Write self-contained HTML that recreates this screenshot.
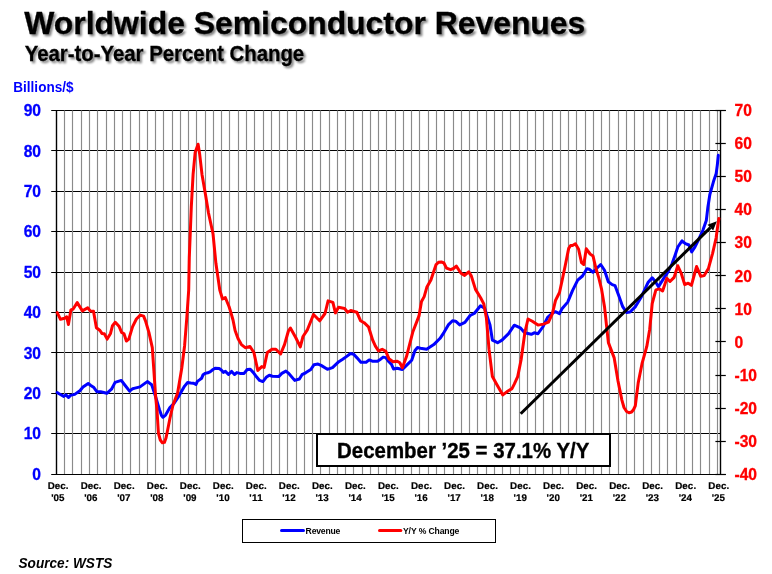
<!DOCTYPE html>
<html><head><meta charset="utf-8"><style>
html,body{margin:0;padding:0;background:#fff;width:772px;height:574px;overflow:hidden}
svg{display:block;will-change:transform}
text{font-family:"Liberation Sans",sans-serif;font-weight:bold}
</style></head><body>
<svg width="772" height="574" viewBox="0 0 772 574">
<defs>
<filter id="sh" x="-5%" y="-20%" width="110%" height="150%">
<feGaussianBlur in="SourceAlpha" stdDeviation="1"/>
<feOffset dx="2" dy="2.2" result="b"/>
<feComponentTransfer in="b" result="c"><feFuncA type="linear" slope="0.5"/></feComponentTransfer>
<feMerge><feMergeNode in="c"/><feMergeNode in="SourceGraphic"/></feMerge>
</filter>
</defs>
<rect width="772" height="574" fill="#fff"/>

<text x="24.3" y="33.8" font-size="31.5" fill="#000" stroke="#000" stroke-width="0.3" filter="url(#sh)" textLength="561" lengthAdjust="spacingAndGlyphs">Worldwide Semiconductor Revenues</text>
<text x="24.7" y="60.9" font-size="22.5" fill="#000" stroke="#000" stroke-width="0.3" filter="url(#sh)" textLength="279.5" lengthAdjust="spacingAndGlyphs">Year-to-Year Percent Change</text>
<text x="13.3" y="92" font-size="14" fill="#0000ff" textLength="60.2" lengthAdjust="spacingAndGlyphs">Billions/$</text>
<g stroke="#000" stroke-width="1.2"><line x1="51.2" y1="474.50" x2="725.8" y2="474.50"/><line x1="51.2" y1="433.50" x2="720.3" y2="433.50"/><line x1="51.2" y1="393.50" x2="720.3" y2="393.50"/><line x1="51.2" y1="352.50" x2="720.3" y2="352.50"/><line x1="51.2" y1="312.50" x2="720.3" y2="312.50"/><line x1="51.2" y1="272.50" x2="720.3" y2="272.50"/><line x1="51.2" y1="231.50" x2="720.3" y2="231.50"/><line x1="51.2" y1="191.50" x2="720.3" y2="191.50"/><line x1="51.2" y1="150.50" x2="720.3" y2="150.50"/><line x1="51.2" y1="110.50" x2="725.8" y2="110.50"/></g>
<g stroke="#8a8a8a" stroke-width="1.15"><line x1="64.50" y1="110.5" x2="64.50" y2="474.0"/><line x1="72.50" y1="110.5" x2="72.50" y2="474.0"/><line x1="81.50" y1="110.5" x2="81.50" y2="474.0"/><line x1="89.50" y1="110.5" x2="89.50" y2="474.0"/><line x1="97.50" y1="110.5" x2="97.50" y2="474.0"/><line x1="106.50" y1="110.5" x2="106.50" y2="474.0"/><line x1="114.50" y1="110.5" x2="114.50" y2="474.0"/><line x1="122.50" y1="110.5" x2="122.50" y2="474.0"/><line x1="130.50" y1="110.5" x2="130.50" y2="474.0"/><line x1="139.50" y1="110.5" x2="139.50" y2="474.0"/><line x1="147.50" y1="110.5" x2="147.50" y2="474.0"/><line x1="155.50" y1="110.5" x2="155.50" y2="474.0"/><line x1="163.50" y1="110.5" x2="163.50" y2="474.0"/><line x1="172.50" y1="110.5" x2="172.50" y2="474.0"/><line x1="180.50" y1="110.5" x2="180.50" y2="474.0"/><line x1="188.50" y1="110.5" x2="188.50" y2="474.0"/><line x1="196.50" y1="110.5" x2="196.50" y2="474.0"/><line x1="205.50" y1="110.5" x2="205.50" y2="474.0"/><line x1="213.50" y1="110.5" x2="213.50" y2="474.0"/><line x1="221.50" y1="110.5" x2="221.50" y2="474.0"/><line x1="229.50" y1="110.5" x2="229.50" y2="474.0"/><line x1="238.50" y1="110.5" x2="238.50" y2="474.0"/><line x1="246.50" y1="110.5" x2="246.50" y2="474.0"/><line x1="254.50" y1="110.5" x2="254.50" y2="474.0"/><line x1="263.50" y1="110.5" x2="263.50" y2="474.0"/><line x1="271.50" y1="110.5" x2="271.50" y2="474.0"/><line x1="279.50" y1="110.5" x2="279.50" y2="474.0"/><line x1="287.50" y1="110.5" x2="287.50" y2="474.0"/><line x1="296.50" y1="110.5" x2="296.50" y2="474.0"/><line x1="304.50" y1="110.5" x2="304.50" y2="474.0"/><line x1="312.50" y1="110.5" x2="312.50" y2="474.0"/><line x1="320.50" y1="110.5" x2="320.50" y2="474.0"/><line x1="329.50" y1="110.5" x2="329.50" y2="474.0"/><line x1="337.50" y1="110.5" x2="337.50" y2="474.0"/><line x1="345.50" y1="110.5" x2="345.50" y2="474.0"/><line x1="353.50" y1="110.5" x2="353.50" y2="474.0"/><line x1="362.50" y1="110.5" x2="362.50" y2="474.0"/><line x1="370.50" y1="110.5" x2="370.50" y2="474.0"/><line x1="378.50" y1="110.5" x2="378.50" y2="474.0"/><line x1="386.50" y1="110.5" x2="386.50" y2="474.0"/><line x1="395.50" y1="110.5" x2="395.50" y2="474.0"/><line x1="403.50" y1="110.5" x2="403.50" y2="474.0"/><line x1="411.50" y1="110.5" x2="411.50" y2="474.0"/><line x1="419.50" y1="110.5" x2="419.50" y2="474.0"/><line x1="428.50" y1="110.5" x2="428.50" y2="474.0"/><line x1="436.50" y1="110.5" x2="436.50" y2="474.0"/><line x1="444.50" y1="110.5" x2="444.50" y2="474.0"/><line x1="453.50" y1="110.5" x2="453.50" y2="474.0"/><line x1="461.50" y1="110.5" x2="461.50" y2="474.0"/><line x1="469.50" y1="110.5" x2="469.50" y2="474.0"/><line x1="477.50" y1="110.5" x2="477.50" y2="474.0"/><line x1="486.50" y1="110.5" x2="486.50" y2="474.0"/><line x1="494.50" y1="110.5" x2="494.50" y2="474.0"/><line x1="502.50" y1="110.5" x2="502.50" y2="474.0"/><line x1="510.50" y1="110.5" x2="510.50" y2="474.0"/><line x1="519.50" y1="110.5" x2="519.50" y2="474.0"/><line x1="527.50" y1="110.5" x2="527.50" y2="474.0"/><line x1="535.50" y1="110.5" x2="535.50" y2="474.0"/><line x1="543.50" y1="110.5" x2="543.50" y2="474.0"/><line x1="552.50" y1="110.5" x2="552.50" y2="474.0"/><line x1="560.50" y1="110.5" x2="560.50" y2="474.0"/><line x1="568.50" y1="110.5" x2="568.50" y2="474.0"/><line x1="576.50" y1="110.5" x2="576.50" y2="474.0"/><line x1="585.50" y1="110.5" x2="585.50" y2="474.0"/><line x1="593.50" y1="110.5" x2="593.50" y2="474.0"/><line x1="601.50" y1="110.5" x2="601.50" y2="474.0"/><line x1="609.50" y1="110.5" x2="609.50" y2="474.0"/><line x1="618.50" y1="110.5" x2="618.50" y2="474.0"/><line x1="626.50" y1="110.5" x2="626.50" y2="474.0"/><line x1="634.50" y1="110.5" x2="634.50" y2="474.0"/><line x1="643.50" y1="110.5" x2="643.50" y2="474.0"/><line x1="651.50" y1="110.5" x2="651.50" y2="474.0"/><line x1="659.50" y1="110.5" x2="659.50" y2="474.0"/><line x1="667.50" y1="110.5" x2="667.50" y2="474.0"/><line x1="676.50" y1="110.5" x2="676.50" y2="474.0"/><line x1="684.50" y1="110.5" x2="684.50" y2="474.0"/><line x1="692.50" y1="110.5" x2="692.50" y2="474.0"/><line x1="700.50" y1="110.5" x2="700.50" y2="474.0"/><line x1="709.50" y1="110.5" x2="709.50" y2="474.0"/><line x1="717.50" y1="110.5" x2="717.50" y2="474.0"/></g>
<g stroke="#000" stroke-width="1.2"><line x1="715.4" y1="474.50" x2="725.8" y2="474.50"/><line x1="715.4" y1="441.50" x2="725.8" y2="441.50"/><line x1="715.4" y1="408.50" x2="725.8" y2="408.50"/><line x1="715.4" y1="375.50" x2="725.8" y2="375.50"/><line x1="715.4" y1="341.50" x2="725.8" y2="341.50"/><line x1="715.4" y1="308.50" x2="725.8" y2="308.50"/><line x1="715.4" y1="275.50" x2="725.8" y2="275.50"/><line x1="715.4" y1="242.50" x2="725.8" y2="242.50"/><line x1="715.4" y1="209.50" x2="725.8" y2="209.50"/><line x1="715.4" y1="176.50" x2="725.8" y2="176.50"/><line x1="715.4" y1="143.50" x2="725.8" y2="143.50"/><line x1="715.4" y1="110.50" x2="725.8" y2="110.50"/></g>
<line x1="56.5" y1="110" x2="56.5" y2="475" stroke="#000" stroke-width="1.4"/>
<line x1="720.5" y1="110" x2="720.5" y2="475" stroke="#000" stroke-width="1.4"/>
<g font-size="15.6" fill="#0000ff" stroke="#0000ff" stroke-width="0.3"><text x="41" y="479.80" text-anchor="end">0</text><text x="41" y="439.41" text-anchor="end">10</text><text x="41" y="399.02" text-anchor="end">20</text><text x="41" y="358.63" text-anchor="end">30</text><text x="41" y="318.24" text-anchor="end">40</text><text x="41" y="277.86" text-anchor="end">50</text><text x="41" y="237.47" text-anchor="end">60</text><text x="41" y="197.08" text-anchor="end">70</text><text x="41" y="156.69" text-anchor="end">80</text><text x="41" y="116.30" text-anchor="end">90</text></g>
<g font-size="15.6" fill="#ff0000" stroke="#ff0000" stroke-width="0.3"><text x="734.5" y="479.80">-40</text><text x="734.5" y="446.75">-30</text><text x="734.5" y="413.71">-20</text><text x="734.5" y="380.66">-10</text><text x="734.5" y="347.62">0</text><text x="734.5" y="314.57">10</text><text x="734.5" y="281.53">20</text><text x="734.5" y="248.48">30</text><text x="734.5" y="215.44">40</text><text x="734.5" y="182.39">50</text><text x="734.5" y="149.35">60</text><text x="734.5" y="116.30">70</text></g>
<g font-size="9.8" fill="#000" stroke="#000" stroke-width="0.2" text-rendering="geometricPrecision"><text x="47.65" y="488.7" textLength="20.9" lengthAdjust="spacing">Dec.</text><text x="51.15" y="500.5" textLength="13.3" lengthAdjust="spacing">&#39;05</text><text x="80.68" y="488.7" textLength="20.9" lengthAdjust="spacing">Dec.</text><text x="84.18" y="500.5" textLength="13.3" lengthAdjust="spacing">&#39;06</text><text x="113.71" y="488.7" textLength="20.9" lengthAdjust="spacing">Dec.</text><text x="117.21" y="500.5" textLength="13.3" lengthAdjust="spacing">&#39;07</text><text x="146.74" y="488.7" textLength="20.9" lengthAdjust="spacing">Dec.</text><text x="150.24" y="500.5" textLength="13.3" lengthAdjust="spacing">&#39;08</text><text x="179.77" y="488.7" textLength="20.9" lengthAdjust="spacing">Dec.</text><text x="183.27" y="500.5" textLength="13.3" lengthAdjust="spacing">&#39;09</text><text x="212.80" y="488.7" textLength="20.9" lengthAdjust="spacing">Dec.</text><text x="216.30" y="500.5" textLength="13.3" lengthAdjust="spacing">&#39;10</text><text x="245.83" y="488.7" textLength="20.9" lengthAdjust="spacing">Dec.</text><text x="249.33" y="500.5" textLength="13.3" lengthAdjust="spacing">&#39;11</text><text x="278.86" y="488.7" textLength="20.9" lengthAdjust="spacing">Dec.</text><text x="282.36" y="500.5" textLength="13.3" lengthAdjust="spacing">&#39;12</text><text x="311.89" y="488.7" textLength="20.9" lengthAdjust="spacing">Dec.</text><text x="315.39" y="500.5" textLength="13.3" lengthAdjust="spacing">&#39;13</text><text x="344.92" y="488.7" textLength="20.9" lengthAdjust="spacing">Dec.</text><text x="348.42" y="500.5" textLength="13.3" lengthAdjust="spacing">&#39;14</text><text x="377.95" y="488.7" textLength="20.9" lengthAdjust="spacing">Dec.</text><text x="381.45" y="500.5" textLength="13.3" lengthAdjust="spacing">&#39;15</text><text x="410.98" y="488.7" textLength="20.9" lengthAdjust="spacing">Dec.</text><text x="414.48" y="500.5" textLength="13.3" lengthAdjust="spacing">&#39;16</text><text x="444.01" y="488.7" textLength="20.9" lengthAdjust="spacing">Dec.</text><text x="447.51" y="500.5" textLength="13.3" lengthAdjust="spacing">&#39;17</text><text x="477.04" y="488.7" textLength="20.9" lengthAdjust="spacing">Dec.</text><text x="480.54" y="500.5" textLength="13.3" lengthAdjust="spacing">&#39;18</text><text x="510.07" y="488.7" textLength="20.9" lengthAdjust="spacing">Dec.</text><text x="513.57" y="500.5" textLength="13.3" lengthAdjust="spacing">&#39;19</text><text x="543.10" y="488.7" textLength="20.9" lengthAdjust="spacing">Dec.</text><text x="546.60" y="500.5" textLength="13.3" lengthAdjust="spacing">&#39;20</text><text x="576.13" y="488.7" textLength="20.9" lengthAdjust="spacing">Dec.</text><text x="579.63" y="500.5" textLength="13.3" lengthAdjust="spacing">&#39;21</text><text x="609.16" y="488.7" textLength="20.9" lengthAdjust="spacing">Dec.</text><text x="612.66" y="500.5" textLength="13.3" lengthAdjust="spacing">&#39;22</text><text x="642.19" y="488.7" textLength="20.9" lengthAdjust="spacing">Dec.</text><text x="645.69" y="500.5" textLength="13.3" lengthAdjust="spacing">&#39;23</text><text x="675.22" y="488.7" textLength="20.9" lengthAdjust="spacing">Dec.</text><text x="678.72" y="500.5" textLength="13.3" lengthAdjust="spacing">&#39;24</text><text x="708.25" y="488.7" textLength="20.9" lengthAdjust="spacing">Dec.</text><text x="711.75" y="500.5" textLength="13.3" lengthAdjust="spacing">&#39;25</text></g>
<polyline points="57.2,392.6 59.1,393.8 63.8,396.4 65.9,394.9 68.5,397.5 70.5,395.4 74.7,394.4 79.9,390.7 83.0,387.1 88.2,383.5 90.8,385.5 93.9,387.6 97.0,391.8 100.6,391.8 106.8,393.3 111.5,389.2 115.1,382.4 121.3,380.4 124.4,384.5 129.6,391.2 132.7,388.7 135.0,388.1 140.0,386.9 147.3,381.6 151.7,384.7 155.3,395.8 159.4,409.4 161.5,415.5 162.9,417.2 165.6,415.1 169.9,407.5 173.8,403.6 179.0,395.8 184.6,386.1 187.6,382.5 190.7,383.0 193.3,383.2 195.9,384.5 197.4,381.4 199.5,379.9 201.6,378.3 203.1,374.7 205.2,373.4 207.8,372.8 210.4,371.6 213.0,369.5 215.1,368.3 219.2,368.5 221.3,370.0 223.3,372.4 225.4,371.4 228.5,374.5 231.6,371.4 234.5,374.5 236.8,372.6 239.9,373.4 244.1,373.4 247.2,369.5 250.3,369.3 253.4,372.6 256.5,376.8 259.6,380.4 262.2,381.4 263.1,381.4 266.2,377.3 269.3,375.2 272.4,376.2 278.7,376.6 281.8,373.4 285.9,371.1 289.0,373.7 294.7,380.4 299.4,379.0 302.0,374.7 305.6,372.8 310.8,369.5 313.9,364.8 318.0,364.1 321.1,365.4 327.4,369.3 332.5,367.6 338.8,361.7 342.3,359.5 346.4,356.6 350.5,353.5 353.7,354.3 356.8,357.6 360.9,362.3 366.1,362.3 369.2,359.9 372.3,361.2 377.5,361.2 380.6,359.2 383.2,357.1 385.8,357.6 388.9,361.8 391.5,364.4 393.5,369.0 397.2,368.2 402.4,369.5 407.5,364.4 411.7,360.2 415.0,350.4 417.5,347.5 420.4,348.2 426.6,349.2 433.8,344.6 440.1,338.3 444.2,332.1 448.3,324.9 452.5,320.7 455.6,321.2 459.7,324.9 464.9,322.3 470.1,315.5 474.2,313.5 480.5,305.7 484.6,308.3 490.0,324.9 492.4,340.1 497.6,342.7 502.0,340.1 508.6,333.6 514.3,325.2 520.3,327.8 524.6,332.8 531.3,334.3 534.2,332.8 538.0,333.7 542.8,327.0 547.6,317.4 552.4,313.2 555.3,311.7 559.5,313.6 562.0,308.8 567.7,302.1 572.5,290.6 577.7,280.2 582.5,276.0 586.9,268.7 589.2,269.3 593.0,272.2 596.8,268.3 600.7,264.5 604.5,270.3 608.3,281.8 612.2,284.6 615.0,285.6 618.9,296.1 622.7,306.7 626.5,312.4 630.0,312.0 635.5,306.6 641.7,296.2 648.0,282.6 652.2,277.8 655.3,281.5 658.5,286.8 663.7,278.4 667.9,272.1 672.0,263.8 675.0,255.4 677.8,247.0 682.0,240.8 685.4,243.6 688.9,245.0 691.7,251.9 694.5,247.7 698.0,240.8 702.9,230.3 706.3,220.6 707.9,206.9 709.9,194.3 713.4,181.8 716.2,173.4 717.3,165.1 718.3,155.3" fill="none" stroke="#0000ff" stroke-width="3" stroke-linejoin="round" stroke-linecap="round"/>
<polyline points="57.2,312.6 60.5,319.3 64.6,318.2 66.7,316.8 68.4,324.5 70.9,309.9 73.0,309.2 77.2,302.6 82.4,310.9 87.7,307.8 90.2,310.9 93.5,311.3 96.4,327.7 100.0,330.5 101.9,333.4 104.3,333.8 107.2,339.1 110.5,333.4 112.5,325.7 115.3,322.3 119.2,326.6 121.6,332.4 124.0,333.8 126.4,341.0 128.8,339.1 132.6,326.6 136.4,319.0 140.3,315.1 143.6,316.1 145.5,320.9 148.9,332.4 152.3,347.7 153.9,370.8 155.5,395.0 157.0,410.0 158.4,433.0 160.3,440.0 162.4,442.8 164.4,442.4 166.0,438.0 167.0,433.3 170.0,418.0 173.0,405.0 177.6,393.1 181.8,368.0 184.6,345.7 186.8,317.9 188.7,290.0 189.3,257.4 191.3,207.0 193.1,174.4 195.2,152.2 198.1,144.2 199.6,153.7 202.0,174.4 205.6,195.2 208.5,213.0 213.0,233.7 215.9,263.3 219.8,290.0 222.5,299.0 225.3,297.5 229.1,306.7 230.4,310.9 233.0,320.0 235.1,330.5 238.0,338.5 241.4,344.6 245.3,347.7 250.0,346.5 253.9,352.5 257.8,370.5 261.8,366.6 264.1,367.4 267.3,352.5 272.0,349.3 275.9,349.3 280.6,354.0 284.5,344.6 288.4,331.0 290.4,328.1 295.7,337.5 300.3,346.9 303.0,336.5 307.2,330.2 313.5,314.5 319.7,320.8 325.0,313.5 328.1,300.9 332.9,302.4 335.4,312.9 338.5,307.3 344.6,308.5 347.6,312.2 350.7,310.5 356.8,312.2 360.5,320.7 364.1,322.7 368.5,326.8 372.7,340.2 375.4,346.2 378.5,350.9 382.2,349.3 385.8,351.4 388.9,358.7 393.0,361.8 397.2,361.2 399.8,362.8 402.4,367.8 406.5,356.6 412.9,331.7 419.0,315.9 421.5,301.5 424.2,296.6 426.8,287.3 430.9,280.0 436.1,264.5 438.5,262.3 441.3,261.9 443.9,263.0 446.5,268.1 450.6,269.7 453.5,268.5 456.3,266.1 461.0,273.3 464.6,275.4 468.7,271.8 471.3,275.9 475.5,289.4 480.6,297.7 483.8,303.9 486.4,317.9 489.0,349.2 492.4,376.6 496.8,384.5 502.8,394.9 508.0,391.0 512.0,388.6 514.4,383.9 517.7,376.6 521.1,359.7 525.0,331.8 528.0,319.0 532.3,321.3 538.0,325.1 543.4,324.1 548.5,322.2 552.4,313.6 555.6,300.2 559.5,292.5 562.0,281.0 565.2,265.7 568.7,248.4 570.6,245.5 572.5,245.5 575.4,243.8 578.6,249.2 581.5,262.6 583.8,264.5 586.3,248.8 590.1,254.0 593.0,255.9 595.9,268.3 598.8,277.9 601.6,289.4 604.5,306.7 606.5,325.3 608.4,342.6 614.2,357.9 618.0,381.0 621.9,400.1 624.0,407.5 626.6,411.5 629.0,412.8 631.6,412.0 633.6,409.5 635.3,405.9 638.2,382.9 642.0,363.7 646.8,346.4 649.7,329.2 651.6,310.0 652.2,303.5 655.9,289.9 659.5,288.9 662.6,290.9 666.8,278.4 670.0,281.5 674.1,277.4 677.8,265.8 681.3,273.5 684.7,284.6 688.2,283.2 691.4,285.3 696.6,266.5 700.8,276.3 704.2,275.6 708.4,268.6 712.6,253.3 716.1,238.0 717.9,224.7 718.9,218.5" fill="none" stroke="#ff0000" stroke-width="3" stroke-linejoin="round" stroke-linecap="round"/>
<line x1="520.7" y1="413.7" x2="710.38" y2="227.60" stroke="#000" stroke-width="3"/>
<polygon points="716.8,221.3 713.18,230.46 707.57,224.75" fill="#000"/>
<rect x="317" y="434" width="293" height="32" fill="#fff" stroke="#000" stroke-width="2"/>
<text x="337.1" y="457.8" font-size="21.3" fill="#000" stroke="#000" stroke-width="0.35" textLength="252.2" lengthAdjust="spacingAndGlyphs">December ’25 = 37.1% Y/Y</text>
<rect x="242.5" y="519.5" width="253" height="23" fill="#fff" stroke="#000" stroke-width="1"/>
<line x1="281.5" y1="530.5" x2="303.5" y2="530.5" stroke="#0000ff" stroke-width="3" stroke-linecap="round"/>
<line x1="379.5" y1="530.6" x2="400.8" y2="530.6" stroke="#ff0000" stroke-width="3" stroke-linecap="round"/>
<text x="305.6" y="533.9" font-size="8.6" fill="#000" textLength="34.7" lengthAdjust="spacing">Revenue</text>
<text x="403" y="533.9" font-size="8.6" fill="#000" textLength="56.4" lengthAdjust="spacing">Y/Y % Change</text>
<text x="18.5" y="567.5" font-size="14.1" font-style="italic" fill="#000" textLength="93.8" lengthAdjust="spacingAndGlyphs">Source: WSTS</text>
</svg></body></html>
